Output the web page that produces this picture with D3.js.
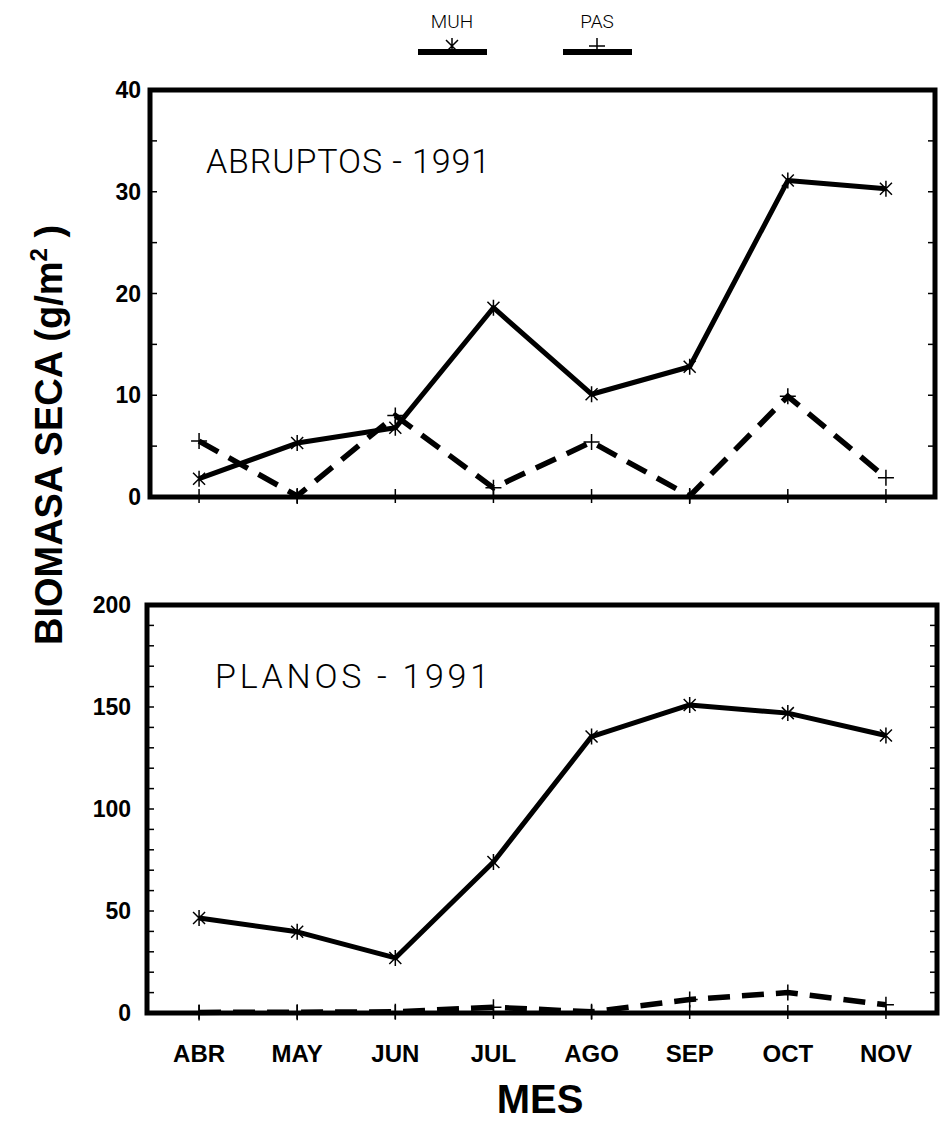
<!DOCTYPE html>
<html>
<head>
<meta charset="utf-8">
<script src="https://cdn.jsdelivr.net/npm/d3@7"></script>
<style>
  body { margin: 0; background: #fff; }
  svg { display: block; }
</style>
</head>
<body>
<svg id="chart"></svg>
<script>
// datos
const meses = ["ABR", "MAY", "JUN", "JUL", "AGO", "SEP", "OCT", "NOV"];

const abruptosMUH = [1.8, 5.3, 6.8, 18.6, 10.1, 12.8, 31.1, 30.3];
const abruptosPAS = [5.5, 0.1, 8.0, 0.9, 5.4, 0.1, 9.9, 1.9];
const abruptosTicks = [0, 10, 20, 30, 40];

const planosMUH = [46.6, 39.8, 27.0, 74.0, 135.5, 151.0, 147.0, 136.0];
const planosPAS = [0.3, 0.4, 0.6, 2.8, 0.6, 6.6, 10.0, 4.0];
const planosTicks = [0, 50, 100, 150, 200];

const width = 940;
const height = 1133;

const svg = d3.select("#chart")
    .attr("width", width)
    .attr("height", height);

const boldFont = "'Liberation Sans', Arial, sans-serif";
const lightFont = "Roboto, 'Open Sans', sans-serif";

// escala x compartida
const xScale = d3.scalePoint()
    .domain(meses)
    .range([150, 935])
    .padding(0.5);

function panel(cfg) {
    const yScale = d3.scaleLinear()
        .domain([0, cfg.max])
        .range([cfg.bottom, cfg.top]);

    const g = svg.append("g");

    // marcas menores dentro del marco
    d3.range(0, cfg.max + 0.001, cfg.minor).forEach(v => {
        g.append("line")
            .attr("x1", cfg.left).attr("x2", cfg.left + 7)
            .attr("y1", yScale(v)).attr("y2", yScale(v))
            .attr("stroke", "#000").attr("stroke-width", 1.5);
        g.append("line")
            .attr("x1", cfg.right - 7).attr("x2", cfg.right)
            .attr("y1", yScale(v)).attr("y2", yScale(v))
            .attr("stroke", "#000").attr("stroke-width", 1.5);
    });

    // marcas de meses
    meses.forEach(m => {
        g.append("line")
            .attr("x1", xScale(m)).attr("x2", xScale(m))
            .attr("y1", cfg.bottom - 8).attr("y2", cfg.bottom + 6)
            .attr("stroke", "#000").attr("stroke-width", 1.5);
    });

    // etiquetas eje y
    g.selectAll(".ytick")
        .data(cfg.ticks)
        .enter()
        .append("text")
        .attr("x", cfg.left - cfg.labelGap)
        .attr("y", d => yScale(d) + 8)
        .attr("text-anchor", "end")
        .attr("font-family", boldFont)
        .attr("font-weight", "bold")
        .attr("font-size", 23)
        .text(d => d);

    const line = d3.line()
        .x((d, i) => xScale(meses[i]))
        .y(d => yScale(d));

    // MUH
    g.append("path")
        .attr("d", line(cfg.muh))
        .attr("fill", "none")
        .attr("stroke", "#000")
        .attr("stroke-width", 5)
        .attr("stroke-linejoin", "round");

    // PAS
    g.append("path")
        .attr("d", line(cfg.pas))
        .attr("fill", "none")
        .attr("stroke", "#000")
        .attr("stroke-width", 5.5)
        .attr("stroke-dasharray", "22,12");

    // marcadores
    cfg.muh.forEach((v, i) => cruzX(g, xScale(meses[i]), yScale(v)));
    cfg.pas.forEach((v, i) => cruzMas(g, xScale(meses[i]), yScale(v)));

    // marco
    g.append("rect")
        .attr("x", cfg.left)
        .attr("y", cfg.top)
        .attr("width", cfg.right - cfg.left)
        .attr("height", cfg.bottom - cfg.top)
        .attr("fill", "none")
        .attr("stroke", "#000")
        .attr("stroke-width", 5);

    // titulo
    g.append("text")
        .attr("x", cfg.titleX)
        .attr("y", cfg.titleY)
        .attr("font-family", lightFont)
        .attr("font-weight", 300)
        .attr("font-size", 34)
        .attr("textLength", cfg.titleW)
        .attr("lengthAdjust", "spacing")
        .text(cfg.title);
}

function cruzX(g, x, y) {
    const s = 6;
    g.append("path")
        .attr("d", `M${x - s},${y - s}L${x + s},${y + s}M${x - s},${y + s}L${x + s},${y - s}M${x},${y - s - 2}L${x},${y + s + 2}`)
        .attr("stroke", "#000").attr("stroke-width", 1.5);
}

function cruzMas(g, x, y) {
    const s = 8;
    g.append("path")
        .attr("d", `M${x - s},${y}L${x + s},${y}M${x},${y - s}L${x},${y + s}`)
        .attr("stroke", "#000").attr("stroke-width", 1.5);
}

panel({
    muh: abruptosMUH, pas: abruptosPAS, ticks: abruptosTicks,
    max: 40, minor: 5,
    left: 150, right: 935, top: 90, bottom: 497,
    labelGap: 9,
    title: "ABRUPTOS - 1991", titleX: 206, titleY: 173, titleW: 284
});

panel({
    muh: planosMUH, pas: planosPAS, ticks: planosTicks,
    max: 200, minor: 10,
    left: 147, right: 937, top: 605, bottom: 1013,
    labelGap: 16,
    title: "PLANOS - 1991", titleX: 215, titleY: 688, titleW: 274
});

// etiquetas de meses
svg.selectAll(".xlab")
    .data(meses)
    .enter()
    .append("text")
    .attr("x", d => xScale(d))
    .attr("y", 1062)
    .attr("text-anchor", "middle")
    .attr("font-family", boldFont)
    .attr("font-weight", "bold")
    .attr("font-size", 24)
    .text(d => d);

// titulos de ejes
svg.append("text")
    .attr("x", 540)
    .attr("y", 1113)
    .attr("text-anchor", "middle")
    .attr("font-family", boldFont)
    .attr("font-weight", "bold")
    .attr("font-size", 40)
    .text("MES");

const ylab = svg.append("text")
    .attr("transform", "translate(62,435) rotate(-90)")
    .attr("text-anchor", "middle")
    .attr("font-family", boldFont)
    .attr("font-weight", "bold")
    .attr("font-size", 38);
ylab.append("tspan").text("BIOMASA SECA (g/m");
ylab.append("tspan").attr("dy", -15).attr("font-size", 24).text("2");
ylab.append("tspan").attr("dy", 15).text(" )");

// leyenda
const leyenda = [
    { nombre: "MUH", x: 418, marca: cruzX },
    { nombre: "PAS", x: 563, marca: cruzMas }
];
leyenda.forEach(l => {
    svg.append("text")
        .attr("x", l.x + 34)
        .attr("y", 28)
        .attr("text-anchor", "middle")
        .attr("font-family", lightFont)
        .attr("font-weight", 300)
        .attr("font-size", 19)
        .text(l.nombre);
    svg.append("line")
        .attr("x1", l.x).attr("x2", l.x + 69)
        .attr("y1", 52).attr("y2", 52)
        .attr("stroke", "#000")
        .attr("stroke-width", 6);
    l.marca(svg, l.x + 34, 46);
});
</script>
</body>
</html>
